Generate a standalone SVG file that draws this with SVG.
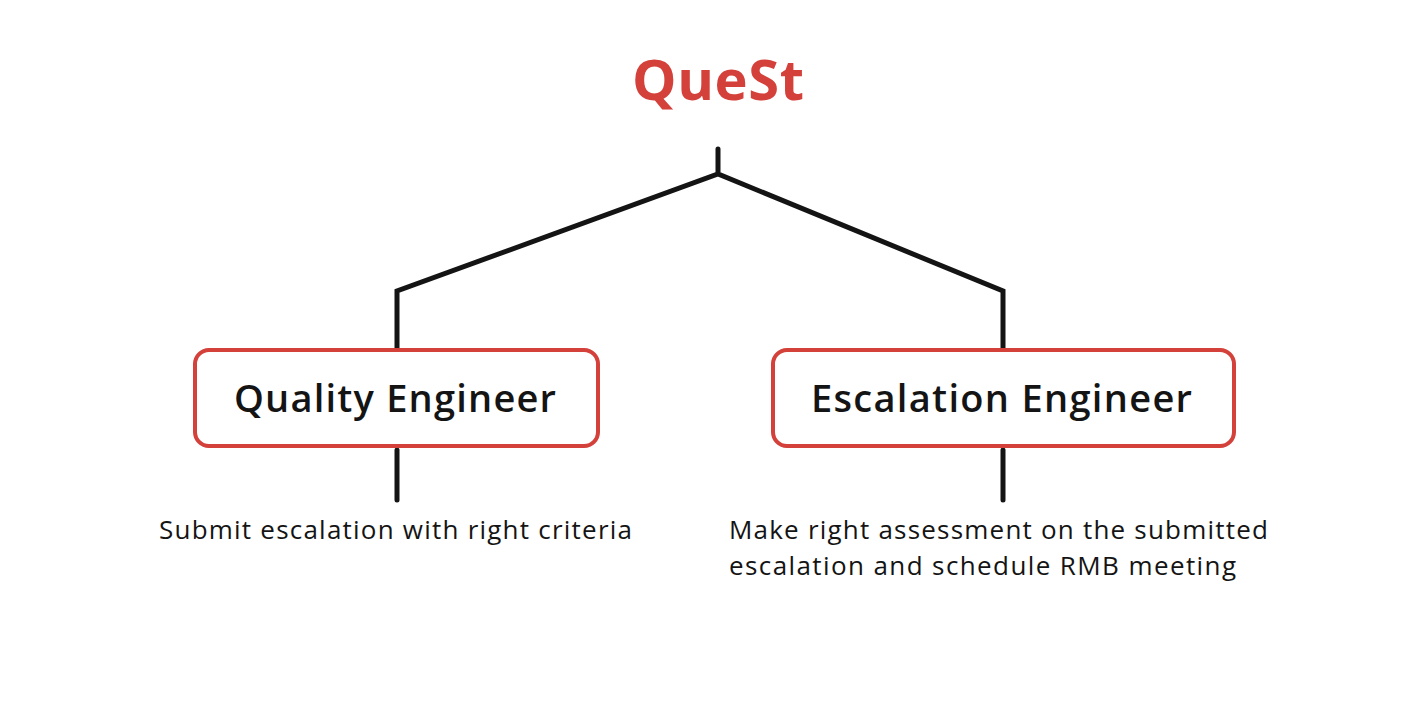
<svg xmlns="http://www.w3.org/2000/svg" width="1402" height="716" viewBox="0 0 1402 716">
<style>
.title{font-family:"Open Sans","Liberation Sans",sans-serif;font-weight:700;font-size:56px;fill:#d4403a}
.box{fill:#fff;stroke:#d4403a;stroke-width:4}
.lbl{font-family:"Open Sans","Liberation Sans",sans-serif;font-weight:600;font-size:38px;fill:#141414}
.desc{font-family:"Open Sans","Liberation Sans",sans-serif;font-weight:400;font-size:26px;fill:#141414}
.con{fill:none;stroke:#141414;stroke-width:5;stroke-linecap:round;stroke-linejoin:miter}
</style>
<rect width="1402" height="716" fill="#fff"/>
<g id="connectors">
<path class="con" d="M718 149 V174 M397 350 V291 L718 174 L1003 291 V350"/>
<path class="con" d="M397 450 V500"/>
<path class="con" d="M1003 450 V500"/>
</g>
<g id="title"><text class="title" x="718" y="100" text-anchor="middle" textLength="172" lengthAdjust="spacing">QueSt</text></g>
<g id="quality-engineer">
<rect class="box" x="195" y="350" width="403" height="96" rx="14"/>
<text class="lbl" x="234" y="412" textLength="322" lengthAdjust="spacing">Quality Engineer</text>
</g>
<g id="escalation-engineer">
<rect class="box" x="773" y="350" width="461" height="96" rx="14"/>
<text class="lbl" x="811" y="412" textLength="381" lengthAdjust="spacing">Escalation Engineer</text>
</g>
<g id="qe-desc"><text class="desc" x="159" y="539" textLength="473" lengthAdjust="spacing">Submit escalation with right criteria</text></g>
<g id="ee-desc"><text class="desc" x="729" y="539" textLength="539" lengthAdjust="spacing">Make right assessment on the submitted</text><text class="desc" x="729" y="575" textLength="507" lengthAdjust="spacing">escalation and schedule RMB meeting</text></g>
</svg>
